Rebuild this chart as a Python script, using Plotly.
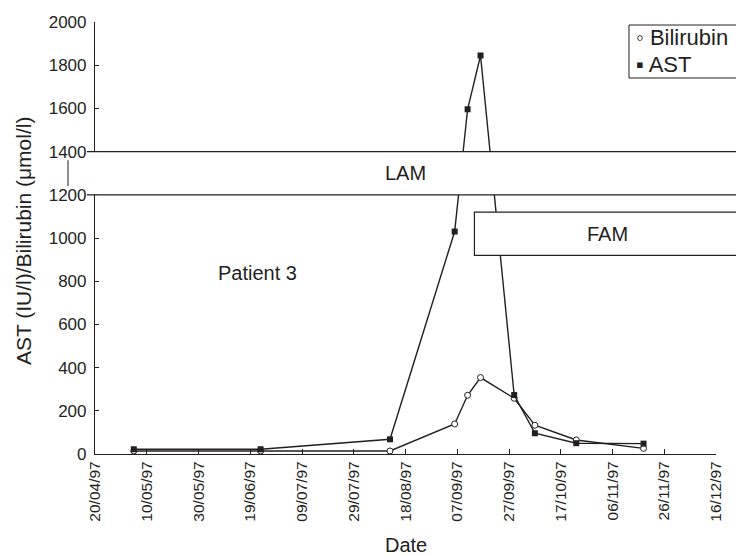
import plotly.graph_objects as go

# ---- data ----
dates = ["1997-05-05", "1997-06-23", "1997-08-12", "1997-09-06", "1997-09-11",
         "1997-09-16", "1997-09-29", "1997-10-07", "1997-10-23", "1997-11-18"]
ast = [22, 22, 68, 1030, 1596, 1845, 273, 96, 50, 48]
bilirubin = [14, 14, 14, 139, 272, 354, 258, 133, 65, 26]

x_range = ["1997-04-20", "1997-12-16"]
y_range = [0, 2000]
lam_band = [1200, 1400]
fam_band = [920, 1120]

INK = "#231f20"
FONT = "Liberation Sans, Arial, Helvetica, sans-serif"

fig = go.Figure()
fig.add_trace(go.Scatter(
    x=dates, y=bilirubin, mode="lines+markers", name="Bilirubin",
    line=dict(color=INK, width=1.4),
    marker=dict(symbol="circle", size=6, color="white", line=dict(color=INK, width=1)),
    showlegend=False))
fig.add_trace(go.Scatter(
    x=dates, y=ast, mode="lines+markers", name="AST",
    line=dict(color=INK, width=1.4),
    marker=dict(symbol="square", size=6, color=INK, line=dict(color=INK, width=0)),
    showlegend=False))

shapes = [
    # LAM band (white fill covering the axis, top & bottom rules only)
    dict(type="rect", xref="paper", yref="y", x0=-0.0129, x1=1.06,
         y0=lam_band[0], y1=lam_band[1], fillcolor="white", line=dict(width=0), layer="above"),
    dict(type="line", xref="paper", yref="y", x0=-0.0129, x1=1.06,
         y0=lam_band[1], y1=lam_band[1], line=dict(color=INK, width=1.2), layer="above"),
    dict(type="line", xref="paper", yref="y", x0=-0.0129, x1=1.06,
         y0=lam_band[0], y1=lam_band[0], line=dict(color=INK, width=1.2), layer="above"),
    # small break mark left of axis
    dict(type="line", xref="paper", yref="y", x0=-0.0435, x1=-0.0435,
         y0=1240, y1=1360, line=dict(color=INK, width=1), layer="above"),
    # FAM box
    dict(type="rect", xref="paper", yref="y", x0=0.611, x1=1.06,
         y0=fam_band[0], y1=fam_band[1], fillcolor="white",
         line=dict(color=INK, width=1.2), layer="above"),
    # legend box
    dict(type="rect", xref="paper", yref="paper", x0=0.8599, x1=1.06,
         y0=0.8704, y1=0.993, fillcolor="white",
         line=dict(color=INK, width=1), layer="above"),
]

def note(text, x, y, xref="paper", yref="paper", size=20, **kw):
    d = dict(text=text, xref=xref, yref=yref, x=x, y=y, showarrow=False,
             xanchor="center", yanchor="middle",
             font=dict(size=size, color=INK, family=FONT))
    d.update(kw)
    return d

annotations = [
    note("LAM", 0.5, 1300, yref="y"),
    note("FAM", 0.825, 1020, yref="y"),
    note("Patient 3", 0.261, 840, yref="y"),
    note("AST (IU/l)/Bilirubin (μmol/l)", -0.116, 0.495, size=21, textangle=-90),
    note("Date", 0.5, -0.2095),
    note("◦ Bilirubin", 0.868, 0.964, xanchor="left", size=22),
    note("▪ AST", 0.868, 0.902, xanchor="left", size=22),
]

fig.update_layout(
    width=736, height=556,
    margin=dict(l=95, r=20, t=22, b=102),
    paper_bgcolor="white", plot_bgcolor="white",
    shapes=shapes, annotations=annotations,
    font=dict(family=FONT, color=INK),
    xaxis=dict(
        type="date", range=x_range, tick0=x_range[0], dtick=20 * 86400000,
        tickformat="%d/%m/%y", tickangle=-90, ticks="inside", ticklen=5,
        tickcolor=INK, showline=True, linecolor=INK, linewidth=1.2,
        showgrid=False, zeroline=False, tickfont=dict(size=15.5, color=INK),
    ),
    yaxis=dict(
        range=y_range, dtick=200, ticks="inside", ticklen=4, tickcolor=INK,
        showline=True, linecolor=INK, linewidth=1.2, showgrid=False,
        zeroline=False, tickfont=dict(size=17, color=INK), ticklabelstandoff=4,
    ),
)

fig.write_html("out.html", config={"displayModeBar": False},
               post_script="document.body.style.margin='0';document.body.style.overflow='hidden';")
